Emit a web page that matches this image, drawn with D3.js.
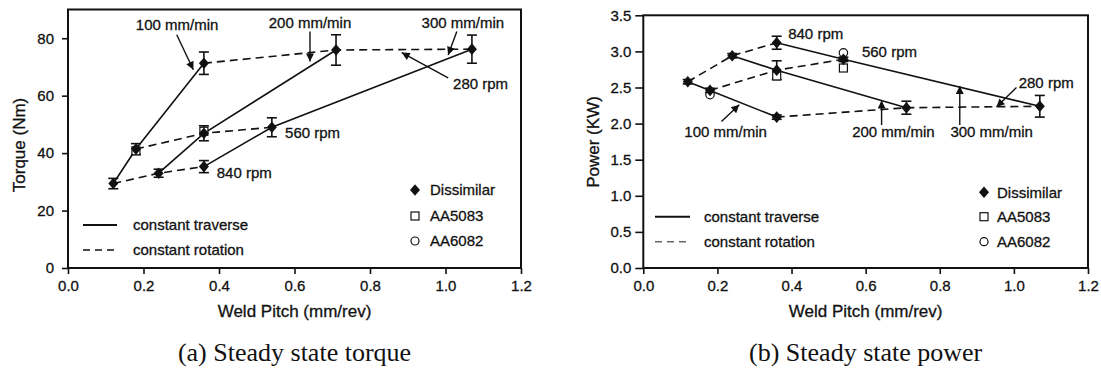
<!DOCTYPE html>
<html>
<head>
<meta charset="utf-8">
<script src="https://cdn.jsdelivr.net/npm/d3@7"></script>
<style>
  html, body { margin: 0; padding: 0; background: #fff; }
  svg { display: block; }
  text { font-family: "Liberation Sans", Arial, sans-serif; fill: #111; }
  text.sans { stroke: #111; stroke-width: 0.3px; }
</style>
</head>
<body>
<svg id="chart" width="1101" height="371"></svg>
<script>
// ---------------- DATA ----------------
// rows: traverse speed 100/200/300 mm/min ; columns: rotation speed 840/560/280 rpm
const traverseLabels = ["100 mm/min", "200 mm/min", "300 mm/min"];
const rotationLabels = ["840 rpm", "560 rpm", "280 rpm"];

const pitch100 = [0.12, 0.18, 0.36];
const pitch200 = [0.24, 0.36, 0.71];
const pitch300 = [0.36, 0.54, 1.07];

const torque100 = [29.4, 41.4, 71.3];
const torque200 = [33.0, 46.9, 75.9];
const torque300 = [35.3, 49.0, 76.2];
const torqueErr100 = [1.8, 1.9, 3.9];
const torqueErr200 = [1.4, 2.6, 5.3];
const torqueErr300 = [2.1, 3.3, 4.9];

const power100 = [2.58, 2.46, 2.09];
const power200 = [2.94, 2.74, 2.22];
const power300 = [3.12, 2.89, 2.24];
const powerErr100 = [0.03, 0.03, 0.03];
const powerErr200 = [0.03, 0.13, 0.09];
const powerErr300 = [0.09, 0.03, 0.15];

// single-material points (open markers)
const torqueAA5083Pitch = [0.18, 0.36];
const torqueAA5083 = [40.8, 47.6];
const torqueAA6082Pitch = [];
const torqueAA6082 = [];
const powerAA5083Pitch = [0.36, 0.54];
const powerAA5083 = [2.66, 2.77];
const powerAA6082Pitch = [0.18, 0.54];
const powerAA6082 = [2.40, 2.98];

const xTicks = [0.0, 0.2, 0.4, 0.6, 0.8, 1.0, 1.2];
const torqueTicks = [0, 20, 40, 60, 80];
const powerTicks = [0.0, 0.5, 1.0, 1.5, 2.0, 2.5, 3.0, 3.5];

// ---------------- DRAW ----------------
const svg = d3.select("#chart");
svg.append("rect").attr("width", 1101).attr("height", 371).attr("fill", "#fff");

const defs = svg.append("defs");
defs.append("marker")
  .attr("id", "arrow")
  .attr("viewBox", "0 0 10 10")
  .attr("refX", 10).attr("refY", 5)
  .attr("markerWidth", 10).attr("markerHeight", 8)
  .attr("markerUnits", "userSpaceOnUse")
  .attr("orient", "auto")
  .append("path").attr("d", "M0,0 L10,5 L0,10 Z").attr("fill", "#111");

function diamondPath(cx, cy) {
  return `M${cx},${cy - 5.8} L${cx + 5},${cy} L${cx},${cy + 5.8} L${cx - 5},${cy} Z`;
}

function drawChart(cfg) {
  const g = svg.append("g");
  const x = d3.scaleLinear().domain([0, 1.2]).range([cfg.x0, cfg.x1]);
  const y = d3.scaleLinear().domain(cfg.yDomain).range([cfg.y1, cfg.y0]);

  // axes
  const xAxis = d3.axisBottom(x).tickValues(xTicks).tickFormat(d3.format(".1f"))
    .tickSizeInner(6).tickSizeOuter(0).tickPadding(6);
  const yAxis = d3.axisLeft(y).tickValues(cfg.yTicks).tickFormat(cfg.yFormat)
    .tickSizeInner(cfg.yTickSize).tickSizeOuter(0).tickPadding(cfg.yPad);

  const gx = g.append("g").attr("transform", `translate(0,${cfg.y1})`).call(xAxis);
  const gy = g.append("g").attr("transform", `translate(${cfg.x0},0)`).call(yAxis);
  [gx, gy].forEach(a => {
    a.selectAll("path").remove();
    a.selectAll("line").attr("stroke", "#111").attr("stroke-width", 1.6);
    a.selectAll("text").attr("class", "sans").style("font-size", "15px")
      .style("font-family", "Liberation Sans, Arial, sans-serif").attr("fill", "#111");
  });

  // frame
  g.append("rect")
    .attr("x", cfg.x0).attr("y", cfg.y0)
    .attr("width", cfg.x1 - cfg.x0).attr("height", cfg.y1 - cfg.y0)
    .attr("fill", "none").attr("stroke", "#111").attr("stroke-width", 2);

  // axis titles
  g.append("text").attr("class", "sans")
    .attr("x", (cfg.x0 + cfg.x1) / 2).attr("y", 311)
    .attr("text-anchor", "middle").attr("dy", "0.35em")
    .style("font-size", "17px").text("Weld Pitch (mm/rev)");
  g.append("text").attr("class", "sans")
    .attr("transform", `translate(${cfg.yTitleX},${cfg.yTitleY}) rotate(-90)`)
    .attr("text-anchor", "middle").attr("dy", "0.35em")
    .style("font-size", "17px").text(cfg.yTitle);

  // caption
  g.append("text")
    .attr("x", (cfg.x0 + cfg.x1) / 2).attr("y", 361)
    .attr("text-anchor", "middle")
    .style("font-family", "Liberation Serif, 'Times New Roman', serif")
    .style("font-size", "26px").text(cfg.caption);

  const rows = cfg.pitch.map((p, i) => p.map((px, j) => ({ x: px, y: cfg.val[i][j], e: cfg.err[i][j] })));
  const line = d3.line().x(d => x(d.x)).y(d => y(d.y));

  // constant traverse (solid): rows
  rows.forEach(r => {
    g.append("path").attr("d", line(r)).attr("fill", "none")
      .attr("stroke", "#111").attr("stroke-width", 1.6);
  });
  // constant rotation (dashed): columns
  [0, 1, 2].forEach(j => {
    const col = rows.map(r => r[j]);
    g.append("path").attr("d", line(col)).attr("fill", "none")
      .attr("stroke", "#111").attr("stroke-width", 1.6).attr("stroke-dasharray", "8,5");
  });

  const all = rows.flat();
  // error bars
  all.forEach(d => {
    const cx = x(d.x), t = y(d.y + d.e), b = y(d.y - d.e);
    g.append("line").attr("x1", cx).attr("x2", cx).attr("y1", t).attr("y2", b)
      .attr("stroke", "#111").attr("stroke-width", 1.6);
    [t, b].forEach(yy => g.append("line").attr("x1", cx - 5).attr("x2", cx + 5)
      .attr("y1", yy).attr("y2", yy).attr("stroke", "#111").attr("stroke-width", 1.6));
  });

  // open markers
  cfg.sqX.forEach((px, i) => {
    g.append("rect").attr("x", x(px) - 4).attr("y", y(cfg.sqY[i]) - 4)
      .attr("width", 8).attr("height", 8).attr("fill", "#fff")
      .attr("stroke", "#111").attr("stroke-width", 1.2);
  });
  cfg.ciX.forEach((px, i) => {
    g.append("circle").attr("cx", x(px)).attr("cy", y(cfg.ciY[i])).attr("r", 4.2)
      .attr("fill", "#fff").attr("stroke", "#111").attr("stroke-width", 1.2);
  });

  // diamonds
  all.forEach(d => {
    g.append("path").attr("d", diamondPath(x(d.x), y(d.y))).attr("fill", "#111");
  });

  // annotations
  cfg.notes.forEach(n => {
    g.append("text").attr("class", "sans").attr("x", x(n.tx)).attr("y", y(n.ty)).attr("dy", "0.35em")
      .attr("text-anchor", n.anchor).style("font-size", "15px").text(n.text);
    if (n.ax1 !== undefined) {
      g.append("line")
        .attr("x1", x(n.ax1)).attr("y1", y(n.ay1))
        .attr("x2", x(n.ax2)).attr("y2", y(n.ay2))
        .attr("stroke", "#111").attr("stroke-width", 1.4)
        .attr("marker-end", "url(#arrow)");
    }
  });

  // legend: line styles
  const lg = cfg.legLine;
  g.append("line").attr("x1", lg.x).attr("x2", lg.x + lg.len).attr("y1", lg.y1).attr("y2", lg.y1)
    .attr("stroke", "#111").attr("stroke-width", 2);
  g.append("line").attr("x1", lg.x).attr("x2", lg.x + lg.len).attr("y1", lg.y2).attr("y2", lg.y2)
    .attr("stroke", cfg.legDashColor).attr("stroke-width", 1.4).attr("stroke-dasharray", "7,5");
  g.append("text").attr("class", "sans").attr("x", lg.tx).attr("y", lg.y1).attr("dy", "0.35em").style("font-size", "15px").text("constant traverse");
  g.append("text").attr("class", "sans").attr("x", lg.tx).attr("y", lg.y2).attr("dy", "0.35em").style("font-size", "15px").text("constant rotation");

  // legend: markers
  const lm = cfg.legMark;
  g.append("path").attr("d", diamondPath(lm.x, lm.y1)).attr("fill", "#111");
  g.append("rect").attr("x", lm.x - 4).attr("y", lm.y2 - 4).attr("width", 8).attr("height", 8)
    .attr("fill", "#fff").attr("stroke", "#111").attr("stroke-width", 1.2);
  g.append("circle").attr("cx", lm.x).attr("cy", lm.y3).attr("r", 4)
    .attr("fill", "#fff").attr("stroke", "#111").attr("stroke-width", 1.2);
  g.append("text").attr("class", "sans").attr("x", lm.tx).attr("y", lm.y1).attr("dy", "0.35em").style("font-size", "15px").text("Dissimilar");
  g.append("text").attr("class", "sans").attr("x", lm.tx).attr("y", lm.y2).attr("dy", "0.35em").style("font-size", "15px").text("AA5083");
  g.append("text").attr("class", "sans").attr("x", lm.tx).attr("y", lm.y3).attr("dy", "0.35em").style("font-size", "15px").text("AA6082");
}

drawChart({
  x0: 68, x1: 521, y0: 9.5, y1: 268,
  yDomain: [0, 90], yTicks: torqueTicks, yFormat: d3.format("d"),
  yTickSize: 6, yPad: 8,
  yTitle: "Torque (Nm)", yTitleX: 19, yTitleY: 145,
  caption: "(a) Steady state torque",
  pitch: [pitch100, pitch200, pitch300],
  val: [torque100, torque200, torque300],
  err: [torqueErr100, torqueErr200, torqueErr300],
  sqX: torqueAA5083Pitch, sqY: torqueAA5083,
  ciX: torqueAA6082Pitch, ciY: torqueAA6082,
  notes: [
    { text: traverseLabels[0], tx: 0.289, ty: 84.6, anchor: "middle", ax1: 0.288, ay1: 81.2, ax2: 0.332, ay2: 69.0 },
    { text: traverseLabels[1], tx: 0.641, ty: 85.3, anchor: "middle", ax1: 0.641, ay1: 82.3, ax2: 0.641, ay2: 71.9 },
    { text: traverseLabels[2], tx: 1.046, ty: 85.3, anchor: "middle", ax1: 1.030, ay1: 82.3, ax2: 1.007, ay2: 74.2 },
    { text: rotationLabels[2], tx: 1.020, ty: 64.3, anchor: "start", ax1: 1.007, ay1: 66.2, ax2: 0.884, ay2: 75.0 },
    { text: rotationLabels[1], tx: 0.575, ty: 47.1, anchor: "start" },
    { text: rotationLabels[0], tx: 0.394, ty: 33.0, anchor: "start" }
  ],
  legLine: { x: 83, len: 34, tx: 133, y1: 225, y2: 250 },
  legDashColor: "#111",
  legMark: { x: 415, tx: 430, y1: 190, y2: 216, y3: 241 }
});

drawChart({
  x0: 643.3, x1: 1088, y0: 15.3, y1: 268,
  yDomain: [0, 3.5], yTicks: powerTicks, yFormat: d3.format(".1f"),
  yTickSize: 8, yPad: 4,
  yTitle: "Power (KW)", yTitleX: 593, yTitleY: 142,
  caption: "(b) Steady state power",
  pitch: [pitch100, pitch200, pitch300],
  val: [power100, power200, power300],
  err: [powerErr100, powerErr200, powerErr300],
  sqX: powerAA5083Pitch, sqY: powerAA5083,
  ciX: powerAA6082Pitch, ciY: powerAA6082,
  notes: [
    { text: rotationLabels[0], tx: 0.391, ty: 3.25, anchor: "start" },
    { text: rotationLabels[1], tx: 0.590, ty: 3.0, anchor: "start" },
    { text: rotationLabels[2], tx: 1.013, ty: 2.56, anchor: "start", ax1: 1.007, ay1: 2.50, ax2: 0.953, ay2: 2.23 },
    { text: traverseLabels[2], tx: 0.940, ty: 1.89, anchor: "middle", ax1: 0.854, ay1: 1.98, ax2: 0.854, ay2: 2.52 },
    { text: traverseLabels[1], tx: 0.675, ty: 1.89, anchor: "middle", ax1: 0.643, ay1: 1.98, ax2: 0.643, ay2: 2.32 },
    { text: traverseLabels[0], tx: 0.222, ty: 1.89, anchor: "middle", ax1: 0.211, ay1: 2.03, ax2: 0.259, ay2: 2.26 }
  ],
  legLine: { x: 655, len: 35, tx: 704, y1: 216.7, y2: 241.7 },
  legDashColor: "#666",
  legMark: { x: 984, tx: 997, y1: 192.3, y2: 216.7, y3: 241.7 }
});
</script>
</body>
</html>
